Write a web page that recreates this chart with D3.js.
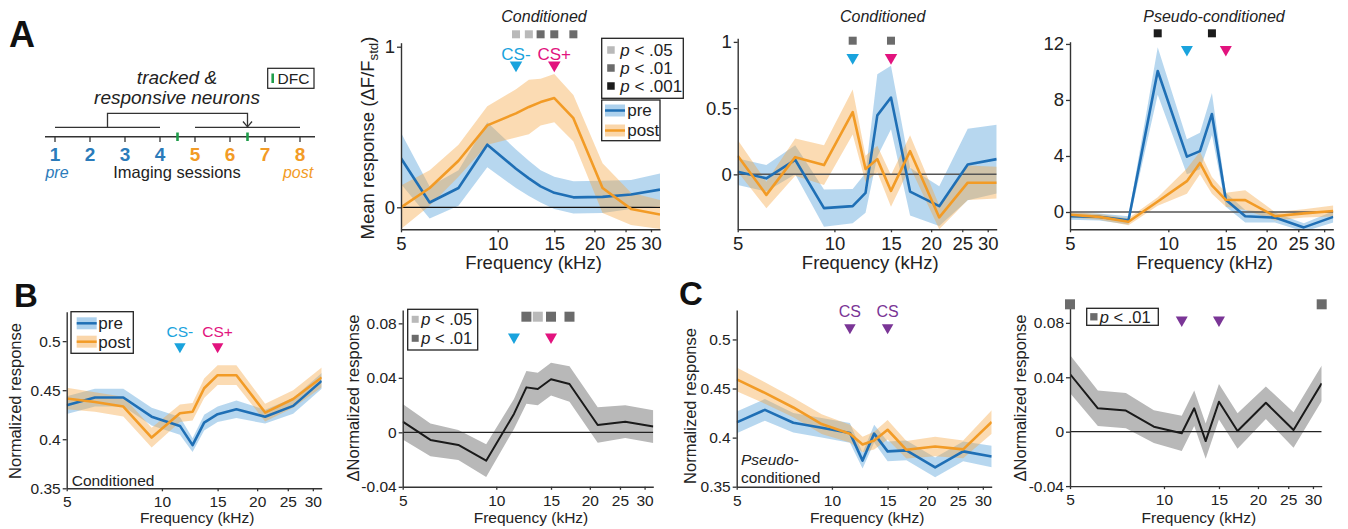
<!DOCTYPE html>
<html>
<head>
<meta charset="utf-8">
<script src="https://cdn.jsdelivr.net/npm/d3@7"></script>
<style>
body { margin: 0; background: #fff; }
</style>
</head>
<body>
<div id="fig"></div>
<script>
// frequencies (kHz) and x ticks
const freqs = [5, 6.14, 7.55, 9.28, 11.4, 12.5, 13.6, 15, 17.2, 21.2, 26, 32];
const xTicks = [5, 10, 15, 20, 25, 30];
const csFreqs = [11.4, 15];
const sessions = [1, 2, 3, 4, 5, 6, 7, 8];
const dfcSessions = [4.5, 6.5];

// A: mean response, conditioned
const meanCondPre = [0.305, 0.03, 0.12, 0.39, 0.24, 0.18, 0.13, 0.09, 0.062, 0.065, 0.08, 0.11];
const meanCondPreErr = [0.16, 0.10, 0.11, 0.14, 0.12, 0.11, 0.10, 0.10, 0.10, 0.10, 0.09, 0.10];
const meanCondPost = [0.0, 0.12, 0.29, 0.51, 0.585, 0.625, 0.655, 0.68, 0.555, 0.12, -0.01, -0.045];
const meanCondPostErr = [0.135, 0.11, 0.10, 0.12, 0.15, 0.17, 0.145, 0.15, 0.145, 0.155, 0.10, 0.09];
const meanCondSigIdx = [4, 5, 6, 7, 8];
const meanCondSigLevel = [1, 1, 2, 2, 2];

// A: example neuron, conditioned
const cellCondPre = [0.02, -0.03, 0.11, -0.255, -0.24, -0.14, 0.445, 0.58, -0.13, -0.24, 0.075, 0.115];
const cellCondPreErr = [0.10, 0.10, 0.11, 0.14, 0.13, 0.15, 0.31, 0.24, 0.18, 0.15, 0.27, 0.26];
const cellCondPost = [0.14, -0.155, 0.13, 0.07, 0.47, 0.04, 0.115, -0.125, 0.175, -0.325, -0.063, -0.063];
const cellCondPostErr = [0.12, 0.10, 0.14, 0.15, 0.17, 0.10, 0.10, 0.12, 0.12, 0.09, 0.13, 0.12];
const cellCondSigIdx = [4, 7];
const cellCondSigLevel = [2, 2];

// A: example neuron, pseudo-conditioned
const cellPseudoPre = [-0.3, -0.35, -0.6, 10.07, 3.95, 4.35, 7.0, 0.87, -0.3, -0.4, -1.1, -0.35];
const cellPseudoPreErr = [0.25, 0.25, 0.3, 1.7, 1.25, 1.3, 1.5, 0.5, 0.45, 0.35, 0.3, 0.4];
const cellPseudoPost = [-0.2, -0.35, -0.7, 0.75, 2.2, 3.5, 1.9, 0.87, 0.85, -0.3, -0.1, 0.07];
const cellPseudoPostErr = [0.2, 0.2, 0.25, 0.3, 0.9, 0.8, 0.6, 0.5, 0.7, 0.3, 0.3, 0.4];
const cellPseudoSigIdx = [3, 6];
const cellPseudoSigLevel = [3, 3];

// B: normalized response, conditioned
const normCondPre = [0.4347, 0.4425, 0.4425, 0.423, 0.4136, 0.394, 0.417, 0.4255, 0.4306, 0.423, 0.434, 0.4595];
const normCondPreErr = [0.009, 0.009, 0.009, 0.009, 0.009, 0.007, 0.008, 0.008, 0.009, 0.007, 0.008, 0.008];
const normCondPost = [0.4415, 0.438, 0.4333, 0.4017, 0.4265, 0.428, 0.452, 0.4653, 0.4653, 0.4272, 0.441, 0.463];
const normCondPostErr = [0.011, 0.01, 0.01, 0.01, 0.009, 0.009, 0.01, 0.01, 0.01, 0.009, 0.009, 0.01];
const deltaCond = [0.0078, -0.0056, -0.0093, -0.0208, 0.0135, 0.033, 0.0318, 0.039, 0.0355, 0.0054, 0.0078, 0.0042];
const deltaCondErr = [0.013, 0.012, 0.011, 0.012, 0.011, 0.012, 0.012, 0.012, 0.013, 0.013, 0.012, 0.012];
const deltaCondSigIdx = [5, 6, 7, 8];
const deltaCondSigLevel = [2, 1, 2, 2];

// C: normalized response, pseudo-conditioned
const normPseudoPre = [0.4155, 0.4283, 0.4152, 0.41, 0.4048, 0.3766, 0.4041, 0.386, 0.387, 0.3697, 0.386, 0.3807];
const normPseudoPreErr = [0.011, 0.011, 0.01, 0.01, 0.01, 0.008, 0.009, 0.01, 0.01, 0.01, 0.01, 0.011];
const normPseudoPost = [0.4593, 0.4455, 0.4307, 0.4138, 0.404, 0.393, 0.397, 0.408, 0.3876, 0.391, 0.388, 0.416];
const normPseudoPostErr = [0.012, 0.011, 0.01, 0.01, 0.009, 0.008, 0.009, 0.01, 0.009, 0.01, 0.009, 0.012];
const deltaPseudo = [0.0424, 0.0172, 0.0155, 0.0037, -0.0012, 0.0172, -0.0069, 0.022, 0.0005, 0.0213, 0.0012, 0.0356];
const deltaPseudoErr = [0.014, 0.013, 0.013, 0.012, 0.013, 0.013, 0.013, 0.013, 0.013, 0.012, 0.013, 0.013];
const deltaPseudoSigIdx = [0, 11];
const deltaPseudoSigLevel = [2, 2];

// colours
const blue = "#1f6fb5", blueBand = "#4a9ad6";
const orange = "#f29b26", orangeBand = "#f5a442";
const grayBand = "#b8b8b8", black = "#1a1a1a";
const csMinus = "#1aa3dd", csPlus = "#e2137e", purple = "#7a3596";
const sigColors = {1: "#b9b9b9", 2: "#6b6b6b", 3: "#1c1c1c"};
const sigLabels = {1: " < .05", 2: " < .01", 3: " < .001"};
const font = "'Liberation Sans', Arial, sans-serif";

const svg = d3.select("#fig").append("svg")
    .attr("width", 1348)
    .attr("height", 529)
    .style("font-family", font);

svg.append("rect").attr("width", 1348).attr("height", 529).attr("fill", "#fff");

const prePost = (pre, preErr, post, postErr) => [
    {values: pre, errors: preErr, line: blue, band: blueBand, op: 0.4, w: 2.6},
    {values: post, errors: postErr, line: orange, band: orangeBand, op: 0.4, w: 2.6}
];

const panels = [
    {left: 401, right: 660, top: 42.7, bottom: 229.3, yDomain: [-0.137, 1.025], yTicks: [0, 1], fs: 18.5,
     xLabelY: 269, yLabel: {x: 368, y: 138, size: 18.5, sub: true, text: "Mean response (ΔF/F"},
     zero: {color: "#111", w: 1.2}, title: {text: "Conditioned", x: 544, y: 22},
     series: prePost(meanCondPre, meanCondPreErr, meanCondPost, meanCondPostErr),
     sig: {idx: meanCondSigIdx, level: meanCondSigLevel, y: 34.3, size: 8},
     cs: {y: 65, w: 12.5, colors: [csMinus, csPlus], labels: ["CS-", "CS+"], labelY: 59.5, labelSize: 17},
     pLegend: {x: 601.7, y: 38.3, w: 81.6, h: 60, levels: [1, 2, 3], row0: 11.7, dy: 18, sqX: 5.5, sq: 7.5, txX: 18.5, size: 17},
     lineLegend: {x: 601.7, y: 100, w: 58.3, h: 40.7, row0: 10.5, dy: 20, patchX: 3.3, txX: 25.5, size: 17}},
    {left: 737.7, right: 996.7, top: 38.3, bottom: 229.3, yDomain: [-0.4148, 1.0271], yTicks: [0, 0.5, 1], fs: 18.5,
     xLabelY: 269, zero: {color: "#555", w: 1.5}, title: {text: "Conditioned", x: 882.7, y: 22},
     series: prePost(cellCondPre, cellCondPreErr, cellCondPost, cellCondPostErr),
     sig: {idx: cellCondSigIdx, level: cellCondSigLevel, y: 40.7, size: 8},
     cs: {y: 57.5, w: 12.5, colors: [csMinus, csPlus]}},
    {left: 1070, right: 1333.3, top: 41.7, bottom: 229.3, yDomain: [-1.236, 12.16], yTicks: [0, 4, 8, 12], fs: 18.5,
     xLabelY: 269, zero: {color: "#555", w: 1.5}, title: {text: "Pseudo-conditioned", x: 1214, y: 22},
     series: prePost(cellPseudoPre, cellPseudoPreErr, cellPseudoPost, cellPseudoPostErr),
     sig: {idx: cellPseudoSigIdx, level: cellPseudoSigLevel, y: 33.3, size: 8},
     cs: {y: 49.5, w: 12, colors: [csMinus, csPlus]}},
    {left: 66.7, right: 321.7, top: 311.7, bottom: 488.3, yDomain: [0.35, 0.53], yTicks: [0.35, 0.4, 0.45, 0.5], fs: 15.5,
     xLabelY: 523, yLabel: {x: 15, y: 401, size: 16.5, text: "Normalized response"},
     series: prePost(normCondPre, normCondPreErr, normCondPost, normCondPostErr),
     cs: {y: 346.5, w: 11.5, colors: [csMinus, csPlus], labels: ["CS-", "CS+"], labelY: 337, labelSize: 15.5},
     inner: [{text: "Conditioned", x: 71.7, y: 486, italic: false}],
     lineLegend: {x: 71, y: 311.7, w: 62.3, h: 41.6, row0: 11.6, dy: 18.4, patchX: 5.7, txX: 27.3, size: 17}},
    {left: 402.7, right: 653.3, top: 310, bottom: 486.8, yDomain: [-0.04, 0.0898], yTicks: [-0.04, 0, 0.04, 0.08], fs: 15.5,
     xLabelY: 523, yLabel: {x: 353.3, y: 398, size: 16.5, text: "ΔNormalized response"},
     zero: {color: "#222", w: 1.2},
     series: [{values: deltaCond, errors: deltaCondErr, line: black, band: grayBand, op: 1, w: 2}],
     sig: {idx: deltaCondSigIdx, level: deltaCondSigLevel, y: 316.7, size: 10},
     cs: {y: 337, w: 12, colors: [csMinus, csPlus]},
     pLegend: {x: 407.7, y: 309.3, w: 70, h: 40.7, levels: [1, 2], row0: 10, dy: 19, sqX: 4, sq: 7, txX: 13.5, size: 16.5}},
    {left: 736.7, right: 991.7, top: 310, bottom: 486.7, yDomain: [0.35, 0.53], yTicks: [0.35, 0.4, 0.45, 0.5], fs: 15.5,
     xLabelY: 523, yLabel: {x: 690, y: 406, size: 16.5, text: "Normalized response"},
     series: prePost(normPseudoPre, normPseudoPreErr, normPseudoPost, normPseudoPostErr),
     cs: {y: 327.5, w: 11.5, colors: [purple, purple], labels: ["CS", "CS"], labelY: 316.5, labelSize: 16},
     inner: [{text: "Pseudo-", x: 741, y: 464.5, italic: true}, {text: "conditioned", x: 741, y: 483, italic: false}]},
    {left: 1070, right: 1321.7, top: 303, bottom: 486.1, yDomain: [-0.04, 0.0946], yTicks: [-0.04, 0, 0.04, 0.08], fs: 15.5,
     xLabelY: 523, yLabel: {x: 1020, y: 398, size: 16.5, text: "ΔNormalized response"},
     zero: {color: "#222", w: 1.2},
     series: [{values: deltaPseudo, errors: deltaPseudoErr, line: black, band: grayBand, op: 1, w: 2}],
     sig: {idx: deltaPseudoSigIdx, level: deltaPseudoSigLevel, y: 304.3, size: 10},
     cs: {y: 320, w: 12, colors: [purple, purple]},
     pLegend: {x: 1086.7, y: 308.3, w: 71.6, h: 17, levels: [2], row0: 8.5, dy: 0, sqX: 3.5, sq: 7.3, txX: 13, size: 16.5}}
];

panels.forEach((p, i) => {
    const x = d3.scaleLog().domain([5, 32]).range([p.left, p.right]);
    const y = d3.scaleLinear().domain(p.yDomain).range([p.bottom, p.top]);
    const g = svg.append("g");

    svg.append("clipPath").attr("id", "clip" + i)
        .append("rect")
        .attr("x", p.left).attr("y", p.top)
        .attr("width", p.right - p.left).attr("height", p.bottom - p.top);
    const plot = g.append("g").attr("clip-path", `url(#clip${i})`);

    // shaded error bands
    const area = d3.area()
        .x(d => x(d.f))
        .y0(d => y(d.v - d.e))
        .y1(d => y(d.v + d.e));
    const line = d3.line()
        .x(d => x(d.f))
        .y(d => y(d.v));
    const pts = s => freqs.map((f, j) => ({f: f, v: s.values[j], e: s.errors[j]}));

    p.series.forEach(s => {
        plot.append("path").datum(pts(s))
            .attr("fill", s.band).attr("fill-opacity", s.op)
            .attr("d", area);
    });

    if (p.zero) {
        plot.append("line")
            .attr("x1", p.left).attr("x2", p.right)
            .attr("y1", y(0)).attr("y2", y(0))
            .attr("stroke", p.zero.color).attr("stroke-width", p.zero.w);
    }

    p.series.forEach(s => {
        plot.append("path").datum(pts(s))
            .attr("fill", "none").attr("stroke", s.line)
            .attr("stroke-width", s.w).attr("stroke-linejoin", "round")
            .attr("d", line);
    });

    // axes
    const xAxis = g.append("g")
        .attr("transform", `translate(0,${p.bottom})`)
        .call(d3.axisBottom(x).tickValues(xTicks).tickFormat(d3.format("d"))
            .tickSize(3).tickSizeOuter(0).tickPadding(5));
    const yAxis = g.append("g")
        .attr("transform", `translate(${p.left},0)`)
        .call(d3.axisLeft(y).tickValues(p.yTicks).tickFormat(d => String(d))
            .tickSize(4).tickSizeOuter(0).tickPadding(2));
    [xAxis, yAxis].forEach(a => {
        a.attr("font-family", null).attr("font-size", p.fs);
        a.select(".domain").attr("stroke", "#333").attr("stroke-width", 1.4);
        a.selectAll(".tick line").attr("stroke", "#333").attr("stroke-width", 1.3);
        a.selectAll(".tick text").attr("fill", "#222");
    });

    g.append("text")
        .attr("x", (p.left + p.right) / 2 + 3)
        .attr("y", p.xLabelY)
        .attr("text-anchor", "middle")
        .attr("font-size", p.fs)
        .attr("fill", "#222")
        .text("Frequency (kHz)");

    if (p.yLabel) {
        const t = g.append("text")
            .attr("transform", `translate(${p.yLabel.x},${p.yLabel.y}) rotate(-90)`)
            .attr("text-anchor", "middle")
            .attr("dy", "0.35em")
            .attr("font-size", p.yLabel.size)
            .attr("fill", "#222")
            .text(p.yLabel.text);
        if (p.yLabel.sub) {
            t.append("tspan").attr("font-size", p.yLabel.size * 0.72).attr("dy", "0.3em").text("std");
            t.append("tspan").attr("dy", "-0.25em").text(")");
        }
    }

    if (p.title) {
        g.append("text")
            .attr("x", p.title.x).attr("y", p.title.y)
            .attr("text-anchor", "middle")
            .attr("font-size", 16)
            .attr("font-style", "italic")
            .attr("fill", "#222")
            .text(p.title.text);
    }

    (p.inner || []).forEach(t => {
        g.append("text")
            .attr("x", t.x).attr("y", t.y)
            .attr("font-size", 15.5)
            .attr("font-style", t.italic ? "italic" : "normal")
            .attr("fill", "#222")
            .text(t.text);
    });

    // significance squares
    if (p.sig) {
        g.selectAll(".sig")
            .data(p.sig.idx.map((k, j) => ({f: freqs[k], level: p.sig.level[j]})))
            .enter()
            .append("rect")
            .attr("x", d => x(d.f) - p.sig.size / 2)
            .attr("y", p.sig.y - p.sig.size / 2)
            .attr("width", p.sig.size)
            .attr("height", p.sig.size)
            .attr("fill", d => sigColors[d.level]);
    }

    // CS markers
    const triArea = Math.sqrt(3) / 4 * p.cs.w * p.cs.w;
    g.selectAll(".cs")
        .data(csFreqs)
        .enter()
        .append("path")
        .attr("d", d3.symbol(d3.symbolTriangle, triArea))
        .attr("transform", d => `translate(${x(d)},${p.cs.y}) rotate(180)`)
        .attr("fill", (d, j) => p.cs.colors[j]);
    if (p.cs.labels) {
        g.selectAll(".cslabel")
            .data(csFreqs)
            .enter()
            .append("text")
            .attr("x", d => x(d))
            .attr("y", p.cs.labelY)
            .attr("text-anchor", "middle")
            .attr("font-size", p.cs.labelSize)
            .attr("fill", (d, j) => p.cs.colors[j])
            .text((d, j) => p.cs.labels[j]);
    }

    // p-value legend
    if (p.pLegend) {
        const L = p.pLegend;
        g.append("rect")
            .attr("x", L.x).attr("y", L.y).attr("width", L.w).attr("height", L.h)
            .attr("fill", "#fff").attr("stroke", "#222").attr("stroke-width", 1.3);
        const row = g.selectAll(".prow")
            .data(L.levels)
            .enter()
            .append("g")
            .attr("transform", (d, j) => `translate(${L.x},${L.y + L.row0 + j * L.dy})`);
        row.append("rect")
            .attr("x", L.sqX).attr("y", -L.sq / 2)
            .attr("width", L.sq).attr("height", L.sq)
            .attr("fill", d => sigColors[d]);
        const txt = row.append("text")
            .attr("x", L.txX).attr("dy", "0.35em")
            .attr("font-size", L.size).attr("fill", "#222");
        txt.append("tspan").attr("font-style", "italic").text("p");
        txt.append("tspan").text(d => sigLabels[d]);
    }

    // pre/post legend
    if (p.lineLegend) {
        const L = p.lineLegend;
        g.append("rect")
            .attr("x", L.x).attr("y", L.y).attr("width", L.w).attr("height", L.h)
            .attr("fill", "#fff").attr("stroke", "#222").attr("stroke-width", 1.3);
        const row = g.selectAll(".lrow")
            .data([{name: "pre", s: p.series[0]}, {name: "post", s: p.series[1]}])
            .enter()
            .append("g")
            .attr("transform", (d, j) => `translate(${L.x},${L.y + L.row0 + j * L.dy})`);
        row.append("rect")
            .attr("x", L.patchX).attr("y", -6).attr("width", 20).attr("height", 12)
            .attr("fill", d => d.s.band).attr("fill-opacity", 0.45);
        row.append("line")
            .attr("x1", L.patchX).attr("x2", L.patchX + 20)
            .attr("stroke", d => d.s.line).attr("stroke-width", 2.5);
        row.append("text")
            .attr("x", L.txX).attr("dy", "0.35em")
            .attr("font-size", L.size).attr("fill", "#222")
            .text(d => d.name);
    }
});

// panel letters
[["A", 9, 47, 36], ["B", 14, 307, 33], ["C", 679, 305, 33]].forEach(([t, x, y, s]) => {
    svg.append("text").attr("x", x).attr("y", y)
        .attr("font-size", s).attr("font-weight", "bold").attr("fill", "#111")
        .text(t);
});

// schematic of imaging sessions
const sx = d3.scaleLinear().domain([1, 8]).range([55, 300]);
const sch = svg.append("g");

sch.append("line")
    .attr("x1", 45).attr("x2", 315).attr("y1", 136.7).attr("y2", 136.7)
    .attr("stroke", "#333").attr("stroke-width", 1.4);
sch.selectAll(".stick")
    .data(sessions)
    .enter()
    .append("line")
    .attr("x1", d => sx(d)).attr("x2", d => sx(d))
    .attr("y1", 136.7).attr("y2", 142)
    .attr("stroke", "#333").attr("stroke-width", 1.3);
sch.selectAll(".dfc")
    .data(dfcSessions)
    .enter()
    .append("line")
    .attr("x1", d => sx(d)).attr("x2", d => sx(d))
    .attr("y1", 132.5).attr("y2", 141)
    .attr("stroke", "#1f9e4a").attr("stroke-width", 2.6);
sch.selectAll(".snum")
    .data(sessions)
    .enter()
    .append("text")
    .attr("x", d => sx(d)).attr("y", 161)
    .attr("text-anchor", "middle")
    .attr("font-size", 19)
    .attr("font-weight", "bold")
    .attr("fill", d => d <= 4 ? "#2b7bba" : "#f29b26")
    .text(d => d);

// brackets for pre and post sessions
[[1, 4], [5, 8]].forEach(([a, b]) => {
    sch.append("line")
        .attr("x1", sx(a)).attr("x2", sx(b)).attr("y1", 127.3).attr("y2", 127.3)
        .attr("stroke", "#333").attr("stroke-width", 1.3);
});
sch.append("path")
    .attr("d", `M${sx(2.5)},127.3 V113.3 H${sx(6.5)} V126.5`)
    .attr("fill", "none").attr("stroke", "#333").attr("stroke-width", 1.3);
sch.append("path")
    .attr("d", `M${sx(6.5) - 4.5},121.5 L${sx(6.5)},126.8 L${sx(6.5) + 4.5},121.5`)
    .attr("fill", "none").attr("stroke", "#333").attr("stroke-width", 1.3);

sch.append("text").attr("x", 177).attr("y", 84)
    .attr("text-anchor", "middle").attr("font-size", 19).attr("font-style", "italic").attr("fill", "#222")
    .text("tracked &");
sch.append("text").attr("x", 177).attr("y", 103.5)
    .attr("text-anchor", "middle").attr("font-size", 19).attr("font-style", "italic").attr("fill", "#222")
    .text("responsive neurons");
sch.append("text").attr("x", 177).attr("y", 178)
    .attr("text-anchor", "middle").attr("font-size", 16.5).attr("fill", "#222")
    .text("Imaging sessions");
sch.append("text").attr("x", 57).attr("y", 178)
    .attr("text-anchor", "middle").attr("font-size", 16).attr("font-style", "italic").attr("fill", "#2b7bba")
    .text("pre");
sch.append("text").attr("x", 298).attr("y", 178)
    .attr("text-anchor", "middle").attr("font-size", 16).attr("font-style", "italic").attr("fill", "#f29b26")
    .text("post");

// DFC legend
sch.append("rect")
    .attr("x", 267.7).attr("y", 68.3).attr("width", 46.3).attr("height", 20)
    .attr("fill", "#fff").attr("stroke", "#222").attr("stroke-width", 1.2);
sch.append("line")
    .attr("x1", 272.7).attr("x2", 272.7).attr("y1", 73.5).attr("y2", 83)
    .attr("stroke", "#1f9e4a").attr("stroke-width", 2.6);
sch.append("text").attr("x", 277.5).attr("y", 84)
    .attr("font-size", 15.5).attr("fill", "#222")
    .text("DFC");
</script>
</body>
</html>
